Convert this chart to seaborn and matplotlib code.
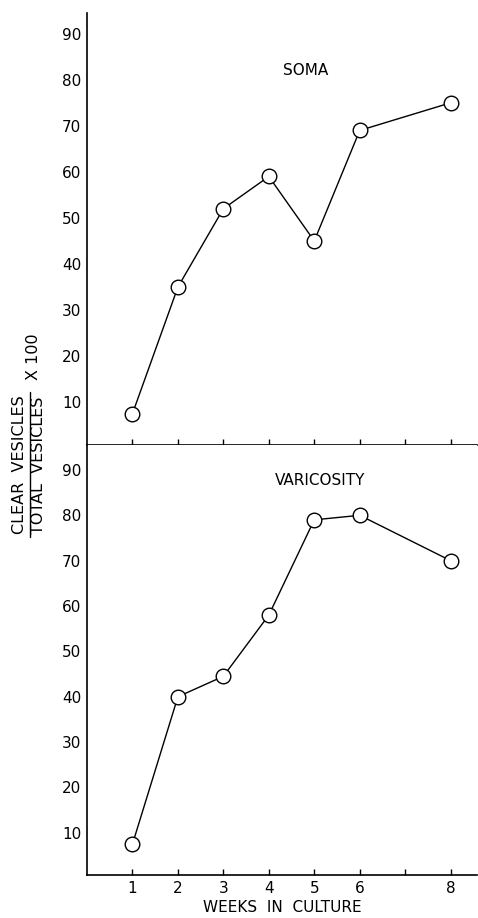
import pandas as pd
import seaborn as sns
import matplotlib.pyplot as plt
from matplotlib.lines import Line2D

# Số liệu
weeks = [1, 2, 3, 4, 5, 6, 8]
soma = [7.5, 35, 52, 59, 45, 69, 75]
varicosity = [7.5, 40, 44.5, 58, 79, 80, 70]
x_ticks = [1, 2, 3, 4, 5, 6, 7, 8]
x_tick_labels = ["1", "2", "3", "4", "5", "6", "", "8"]
y_ticks = [10, 20, 30, 40, 50, 60, 70, 80, 90]


def main():
    sns.set_style("white")
    plt.rcParams["font.family"] = ["DejaVu Sans"]
    plt.rcParams["text.color"] = "black"
    plt.rcParams["axes.labelcolor"] = "black"

    W, H = 478, 918
    fig = plt.figure(figsize=(W / 100, H / 100), dpi=100)

    left, right = 87 / W, 477 / W
    ax_top = fig.add_axes([left, 1 - 445 / H, right - left, (445 - 13) / H])
    ax_bot = fig.add_axes([left, 1 - 875 / H, right - left, (875 - 445) / H])

    panels = [(ax_top, soma, "SOMA", (0.56, 0.868), (0.7, 94.5)),
              (ax_bot, varicosity, "VARICOSITY", (0.597, 0.918), (0.7, 95.5))]

    for ax, values, title, tpos, ylim in panels:
        df = pd.DataFrame({"week": weeks, "value": values})
        sns.lineplot(data=df, x="week", y="value", ax=ax, color="black",
                     linewidth=1.0, marker="o", markersize=10.5,
                     markerfacecolor="white", markeredgecolor="black",
                     markeredgewidth=1.0)
        ax.set_xlim(0, 8.58)
        ax.set_ylim(*ylim)
        ax.set_xticks(x_ticks)
        ax.set_yticks(y_ticks)
        ax.set_yticklabels([str(v) for v in y_ticks], fontsize=11)
        ax.tick_params(axis="x", direction="in", length=4, width=1,
                       colors="black", bottom=True)
        ax.tick_params(axis="y", length=0, pad=4, colors="black")
        for s in ["top", "right"]:
            ax.spines[s].set_visible(False)
        for s in ["left", "bottom"]:
            ax.spines[s].set_color("black")
            ax.spines[s].set_linewidth(1.2)
        ax.set_xlabel("")
        ax.set_ylabel("")
        ax.text(tpos[0], tpos[1], title, transform=ax.transAxes,
                ha="center", va="center", fontsize=11, color="black")

    ax_top.set_xticklabels([])
    ax_bot.set_xticklabels(x_tick_labels, fontsize=11)
    ax_bot.tick_params(axis="x", pad=4)
    ax_bot.set_xlabel("WEEKS  IN  CULTURE", fontsize=11, labelpad=3)

    # Nhãn trục Y dạng phân số
    fig.text(20 / W, 1 - 465 / H, "CLEAR  VESICLES", rotation=90,
             ha="center", va="center", fontsize=11.5)
    fig.text(39 / W, 1 - 465 / H, "TOTAL  VESICLES", rotation=90,
             ha="center", va="center", fontsize=11.5)
    fig.add_artist(Line2D([29.5 / W, 29.5 / W], [1 - 537 / H, 1 - 392 / H],
                          transform=fig.transFigure, color="black", lw=1))
    fig.text(34 / W, 1 - 357 / H, "X 100", rotation=90,
             ha="center", va="center", fontsize=11.5)

    fig.savefig("out.png", dpi=100)


if __name__ == "__main__":
    main()
